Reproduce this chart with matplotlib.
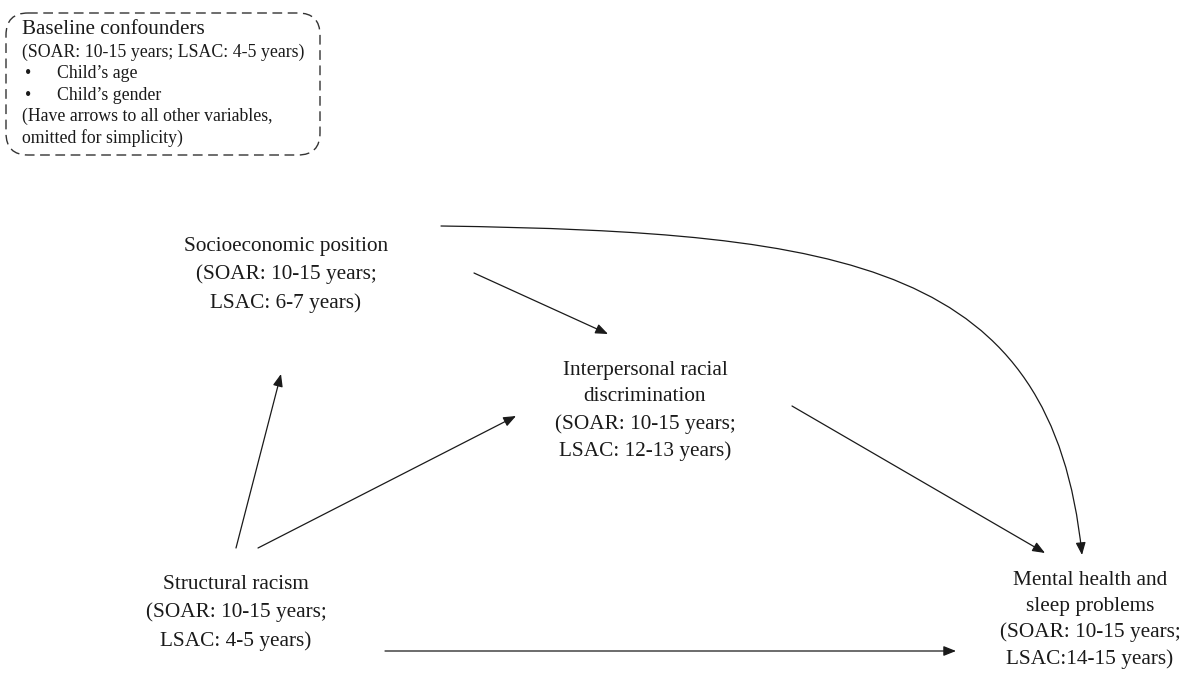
import matplotlib.pyplot as plt
from matplotlib.patches import FancyArrowPatch, FancyBboxPatch
from matplotlib.path import Path

# node labels
sep_label = ["Socioeconomic position", "(SOAR: 10-15 years;", "LSAC: 6-7 years)"]
ird_label = ["Interpersonal racial", "discrimination", "(SOAR: 10-15 years;", "LSAC: 12-13 years)"]
sr_label = ["Structural racism", "(SOAR: 10-15 years;", "LSAC: 4-5 years)"]
mh_label = ["Mental health and", "sleep problems", "(SOAR: 10-15 years;", "LSAC:14-15 years)"]

box_title = "Baseline confounders"
box_sub = "(SOAR: 10-15 years; LSAC: 4-5 years)"
box_items = ["Child\u2019s age", "Child\u2019s gender"]
box_note = ["(Have arrows to all other variables,", "omitted for simplicity)"]

plt.rcParams['font.family'] = ['Liberation Serif', 'DejaVu Serif']

fig = plt.figure(figsize=(11.88, 6.77), dpi=100)
ax = fig.add_axes([0, 0, 1, 1])
ax.set_xlim(0, 1188)
ax.set_ylim(677, 0)
ax.axis('off')

ink = '#1a1a1a'


def node(x, y, lines, ls=1.57):
    ax.text(x, y, "\n".join(lines), ha='center', va='center', fontsize=15.3,
            linespacing=ls, color=ink)


node(286, 275, sep_label)
node(645, 411, ird_label, 1.52)
node(236, 613, sr_label)
node(1090, 620, mh_label, 1.47)

head = '-|>,head_length=0.75,head_width=0.3'


def arrow(p0, p1):
    a = FancyArrowPatch(p0, p1, arrowstyle=head, mutation_scale=10, lw=0.9,
                        color=ink, shrinkA=0, shrinkB=0)
    ax.add_patch(a)


arrow((236, 548), (281, 374))
arrow((258, 548), (516, 416))
arrow((474, 273), (608, 334))
arrow((792, 406), (1045, 553))
arrow((385, 651), (956, 651))

# curved path from SEP to mental health
curve = Path([(441, 226), (850, 232), (1052, 265), (1082, 555)],
             [Path.MOVETO, Path.CURVE4, Path.CURVE4, Path.CURVE4])
ax.add_patch(FancyArrowPatch(path=curve, arrowstyle=head, mutation_scale=10,
                             lw=0.9, color=ink))

# dashed confounder box
box = FancyBboxPatch((6, 13), 314, 142, boxstyle='round,pad=0,rounding_size=22',
                     fill=False, ec='#333333', lw=1.0, linestyle=(0, (7, 4)))
ax.add_patch(box)

ax.text(22, 29, box_title, ha='left', va='center', fontsize=15.2, color=ink)
ax.text(22, 52, box_sub, ha='left', va='center', fontsize=12.8, color=ink)
for i, item in enumerate(box_items):
    yy = 73.5 + i * 21.5
    ax.text(25, yy, "\u2022", ha='left', va='center', fontsize=12.8, color=ink)
    ax.text(57, yy, item, ha='left', va='center', fontsize=12.8, color=ink)
for i, line in enumerate(box_note):
    ax.text(22, 116.5 + i * 21.5, line, ha='left', va='center', fontsize=12.8, color=ink)

fig.savefig('out.png', dpi=100)
